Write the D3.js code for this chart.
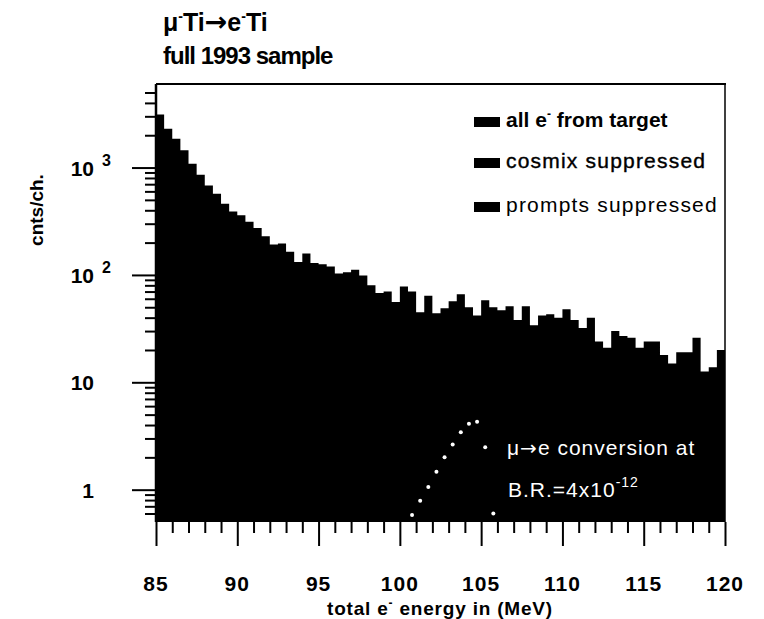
<!DOCTYPE html>
<html>
<head>
<meta charset="utf-8">
<script src="https://cdn.jsdelivr.net/npm/d3@7/dist/d3.min.js"></script>
<style>
  html, body { margin: 0; padding: 0; background: #fff; }
  svg { display: block; font-family: "Liberation Sans", Arial, Helvetica, sans-serif; }
</style>
</head>
<body>
<svg id="chart" width="764" height="619"></svg>
<script>
// ---------------- data ----------------
const binEdges = d3.range(85, 120, 0.5);           // lower edge of each 0.5 MeV channel
const allCounts = [
  3119, 2295, 1851, 1449, 1083, 855, 680, 569, 459, 389,
  359, 312, 274, 229, 192, 196, 164, 132, 158, 129,
  126, 120, 103, 106, 112, 99, 80, 68, 70, 56,
  78, 70, 45, 64, 44, 49, 57, 66, 50, 42,
  58, 50, 47, 51, 38, 51, 34, 42, 43, 40,
  48, 38, 32, 40, 24, 21, 30, 27, 26, 21,
  24, 24, 18, 15, 19, 19, 26, 12.6, 13.8, 20
];
const signalEnergy = [100.75, 101.25, 101.75, 102.25, 102.75, 103.25, 103.75, 104.25, 104.75, 105.25, 105.75];
const signalCounts = [0.58, 0.79, 1.06, 1.47, 2.0, 2.63, 3.42, 4.12, 4.30, 2.48, 0.60];
const xMajorTicks = [85, 90, 95, 100, 105, 110, 115, 120];
const xMinorTicks = d3.range(86, 120, 1).filter(v => v % 5 !== 0);
const yMajorTicks = [1, 10, 100, 1000];
const yMajorLabels = [["1", ""], ["10", ""], ["10", "2"], ["10", "3"]];
const yMinorTicks = [0.6, 0.7, 0.8, 0.9, 2, 3, 4, 5, 6, 7, 8, 9,
  20, 30, 40, 50, 60, 70, 80, 90, 200, 300, 400, 500, 600, 700, 800, 900,
  2000, 3000, 4000, 5000];
const legendLabels = ["all e", "cosmix suppressed", "prompts suppressed"];

// ---------------- layout ----------------
const L = 156, R = 725, T = 84, B = 522;
const svg = d3.select("#chart");
const x = d3.scaleLinear().domain([85, 120]).range([L, R]);
const y = d3.scaleLog().domain([0.5, 6000]).range([B, T]);

// histogram
const pts = binEdges.map((e, i) => ({ e, v: allCounts[i] }));
pts.push({ e: 120, v: allCounts[allCounts.length - 1] });
const area = d3.area()
  .x(d => x(d.e))
  .y0(B)
  .y1(d => y(d.v))
  .curve(d3.curveStepAfter);
svg.append("path").datum(pts).attr("d", area).attr("fill", "#000");

// frame (top + right)
svg.append("line").attr("x1", L).attr("x2", R + 1).attr("y1", T).attr("y2", T)
  .attr("stroke", "#000").attr("stroke-width", 2);
svg.append("line").attr("x1", R).attr("x2", R).attr("y1", T).attr("y2", B)
  .attr("stroke", "#000").attr("stroke-width", 1.5);

// y axis
const yAxMaj = svg.append("g").attr("transform", `translate(${L},0)`)
  .call(d3.axisLeft(y).tickValues(yMajorTicks).tickSize(24).tickFormat(""));
const yAxMin = svg.append("g").attr("transform", `translate(${L},0)`)
  .call(d3.axisLeft(y).tickValues(yMinorTicks).tickSize(11).tickFormat(""));
[yAxMaj, yAxMin].forEach(g => {
  g.select(".domain").remove();
  g.selectAll(".tick line").attr("stroke", "#000").attr("stroke-width", 2);
});
svg.append("line").attr("x1", L).attr("x2", L).attr("y1", T).attr("y2", B)
  .attr("stroke", "#000").attr("stroke-width", 2.5);

yMajorTicks.forEach((v, i) => {
  svg.append("text")
    .attr("x", 94).attr("y", y(v) + 8)
    .attr("text-anchor", "end")
    .attr("font-size", 21).attr("font-weight", "bold")
    .text(yMajorLabels[i][0]);
  if (yMajorLabels[i][1]) {
    svg.append("text").attr("x", 102).attr("y", y(v) - 2)
      .attr("font-size", 16).attr("font-weight", "bold")
      .text(yMajorLabels[i][1]);
  }
});
svg.append("text")
  .attr("transform", `translate(43,210) rotate(-90)`)
  .attr("text-anchor", "middle")
  .attr("font-size", 19).attr("font-weight", "bold")
  .text("cnts/ch.");

// x axis
const xAxMaj = svg.append("g").attr("transform", `translate(0,${B})`)
  .call(d3.axisBottom(x).tickValues(xMajorTicks).tickSize(24).tickFormat(""));
const xAxMin = svg.append("g").attr("transform", `translate(0,${B})`)
  .call(d3.axisBottom(x).tickValues(xMinorTicks).tickSize(11).tickFormat(""));
[xAxMaj, xAxMin].forEach(g => {
  g.select(".domain").remove();
  g.selectAll(".tick line").attr("stroke", "#000").attr("stroke-width", 2);
});
xMajorTicks.forEach(v => {
  svg.append("text").attr("x", x(v)).attr("y", 591)
    .attr("text-anchor", "middle")
    .attr("font-size", 21).attr("font-weight", "bold")
    .attr("letter-spacing", 1)
    .text(v);
});
const xt = svg.append("text").attr("x", 440).attr("y", 615)
  .attr("text-anchor", "middle")
  .attr("font-size", 19).attr("font-weight", "bold").attr("letter-spacing", 0.8);
xt.append("tspan").text("total e");
xt.append("tspan").attr("dy", -8).attr("font-size", 12).text("-");
xt.append("tspan").attr("dy", 8).text(" energy in (MeV)");

// titles
const t1 = svg.append("text").attr("x", 163).attr("y", 31)
  .attr("font-size", 25).attr("font-weight", "bold");
t1.append("tspan").text("\u03bc");
t1.append("tspan").attr("dy", -10).attr("font-size", 14).text("-");
t1.append("tspan").attr("dy", 10).text("Ti");
t1.append("tspan").attr("font-family", "DejaVu Sans").attr("font-size", 27).text("\u2192");
t1.append("tspan").text("e");
t1.append("tspan").attr("dy", -10).attr("font-size", 14).text("-");
t1.append("tspan").attr("dy", 10).text("Ti");
svg.append("text").attr("x", 163).attr("y", 64)
  .attr("font-size", 24).attr("font-weight", "bold").attr("letter-spacing", -1)
  .text("full 1993 sample");

// legend
const legY = [127, 168, 212];
legendLabels.forEach((lab, i) => {
  svg.append("rect").attr("x", 474).attr("y", legY[i] - 10)
    .attr("width", 26).attr("height", 10).attr("fill", "#000");
  const tx = svg.append("text").attr("x", 506).attr("y", legY[i])
    .attr("font-size", 21);
  if (i === 0) {
    tx.attr("font-weight", "bold");
    tx.append("tspan").text(lab);
    tx.append("tspan").attr("dy", -9).attr("font-size", 12).text("-");
    tx.append("tspan").attr("dy", 9).text(" from target");
  } else {
    tx.attr("letter-spacing", 1.2).text(lab);
    if (i === 1) tx.attr("stroke", "#000").attr("stroke-width", 0.4);
  }
});

// signal dots
svg.append("g").selectAll("circle")
  .data(signalEnergy.map((e, i) => ({ e, v: signalCounts[i] })))
  .join("circle")
  .attr("cx", d => x(d.e)).attr("cy", d => y(d.v))
  .attr("r", 2).attr("fill", "#fff");

// signal annotation
const conv = svg.append("text").attr("x", 507).attr("y", 455)
  .attr("font-size", 21).attr("fill", "#fff").attr("letter-spacing", 1);
conv.append("tspan").text("\u03bc");
conv.append("tspan").attr("font-family", "DejaVu Sans").attr("font-size", 20).text("\u2192");
conv.append("tspan").text("e conversion at");
const br = svg.append("text").attr("x", 508).attr("y", 497)
  .attr("font-size", 21).attr("fill", "#fff").attr("letter-spacing", 1);
br.append("tspan").text("B.R.=4x10");
br.append("tspan").attr("dy", -10).attr("font-size", 14).text("-12");
</script>
</body>
</html>
